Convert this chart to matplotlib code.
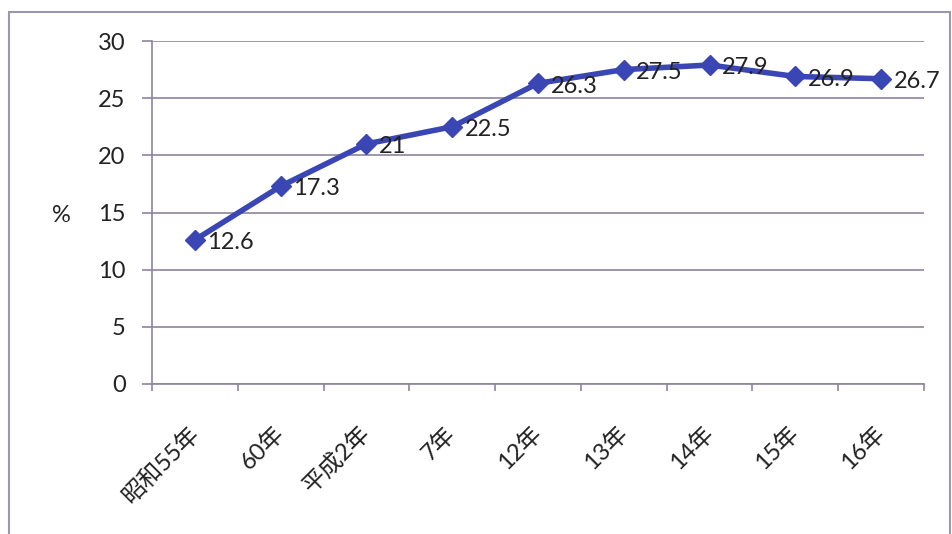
import matplotlib
matplotlib.use('Agg')
import matplotlib.pyplot as plt
from matplotlib.patches import Rectangle
import numpy as np

plt.rcParams['font.family'] = ['Lato', 'Noto Sans CJK JP', 'DejaVu Sans']

years = ['昭和55年', '60年', '平成2年', '7年', '12年', '13年', '14年', '15年', '16年']
rate = [12.6, 17.3, 21, 22.5, 26.3, 27.5, 27.9, 26.9, 26.7]
rate_labels = ['12.6', '17.3', '21', '22.5', '26.3', '27.5', '27.9', '26.9', '26.7']

line_col = '#3a46b4'
grid_col = '#8c84a0'
txt_col = '#222222'
fs = 17

fig = plt.figure(figsize=(9.53, 5.34), dpi=100)
ax = fig.add_axes([0.1595, 0.2809, 0.81, 0.6423])

x = np.arange(len(years))
ax.plot(x, rate, color=line_col, lw=4, marker='D', markersize=10.5,
        markerfacecolor=line_col, markeredgecolor=line_col, zorder=3)

for xi, yi, lab in zip(x, rate, rate_labels):
    ax.annotate(lab, (xi, yi), xytext=(9, -2), textcoords='offset points',
                ha='left', va='center', fontsize=fs, color=txt_col, zorder=4)

ax.set_xlim(-0.5, len(years) - 0.5)
ax.set_ylim(0, 30)
ax.set_yticks(np.arange(0, 31, 5))
ax.yaxis.grid(True, color=grid_col, lw=1.2)
ax.set_axisbelow(True)

ax.set_xticks(x)
ax.set_xticklabels(years, rotation=45, ha='right', va='center',
                   rotation_mode='anchor', fontsize=fs, color=txt_col)
ax.set_xticks(np.arange(-0.5, len(years), 1), minor=True)
ax.tick_params(axis='x', which='major', length=0, pad=33)
ax.tick_params(axis='x', which='minor', length=5, width=1.2, color=grid_col, direction='out')
ax.tick_params(axis='y', length=7, width=1.2, color=grid_col, pad=12,
               labelsize=fs, labelcolor=txt_col)

for s in ['top', 'right']:
    ax.spines[s].set_visible(False)
for s in ['left', 'bottom']:
    ax.spines[s].set_color(grid_col)
    ax.spines[s].set_linewidth(1.2)

fig.text(0.064, 0.597, '%', ha='center', va='center', fontsize=fs, color=txt_col)

fig.patches.append(Rectangle((9 / 953, -0.05), 941 / 953, 1.05 - 12 / 534,
                             transform=fig.transFigure, fill=False,
                             edgecolor='#9a98aa', lw=1.5))

fig.savefig('out.png', dpi=100)
